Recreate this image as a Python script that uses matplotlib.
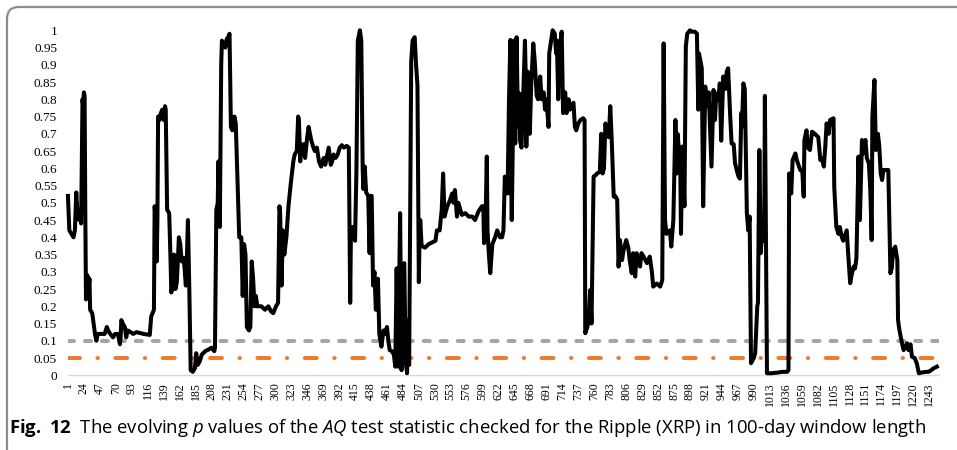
import matplotlib
matplotlib.use("Agg")
import matplotlib.pyplot as plt
from matplotlib.patches import FancyBboxPatch
from matplotlib.transforms import IdentityTransform

# window index (day) and p value
day = [
    1, 3, 6, 9, 11, 13, 15, 17, 19, 20, 22, 23, 24, 25, 26, 27, 29, 30, 32, 33,
    36, 38, 40, 42, 44, 50, 54, 57, 59, 62, 66, 69, 73, 76, 77, 78, 80, 83, 85, 87,
    90, 95, 100, 110, 119, 121, 123, 125, 126, 128, 129, 130, 131, 133, 135, 137, 139, 141, 142, 144,
    147, 149, 150, 152, 154, 156, 158, 161, 163, 165, 168, 171, 172, 174, 176, 178, 181, 184, 186, 188,
    191, 194, 199, 204, 208, 212, 213, 215, 217, 218, 220, 222, 223, 226, 228, 230, 232, 234, 236, 238,
    241, 243, 245, 248, 251, 253, 255, 257, 259, 262, 264, 266, 268, 270, 272, 274, 280, 285, 290, 294,
    297, 301, 304, 306, 307, 309, 311, 313, 316, 319, 322, 324, 326, 328, 331, 333, 334, 336, 337, 339,
    341, 343, 346, 348, 350, 352, 355, 357, 360, 363, 366, 368, 370, 372, 375, 377, 380, 382, 384, 387,
    390, 393, 396, 399, 403, 406, 408, 409, 411, 413, 415, 417, 419, 421, 422, 424, 426, 427, 429, 431,
    434, 436, 437, 439, 441, 443, 445, 448, 450, 453, 456, 458, 461, 463, 465, 468, 471, 473, 475, 477,
    480, 482, 484, 486, 488, 490, 491, 493, 496, 498, 501, 503, 505, 507, 508, 509, 511, 516, 521, 526,
    531, 533, 537, 540, 542, 544, 548, 552, 555, 557, 559, 562, 564, 569, 574, 579, 584, 588, 593, 598,
    600, 601, 603, 605, 606, 608, 610, 613, 617, 620, 624, 627, 629, 631, 633, 635, 637, 639, 640, 641,
    643, 644, 646, 648, 650, 652, 653, 655, 657, 660, 661, 662, 664, 667, 669, 672, 674, 677, 679, 682,
    684, 687, 689, 691, 694, 695, 697, 700, 703, 705, 706, 708, 710, 713, 715, 718, 720, 723, 725, 727,
    730, 732, 734, 737, 740, 744, 746, 747, 750, 752, 754, 756, 759, 762, 764, 768, 770, 772, 774, 776,
    779, 781, 783, 785, 788, 790, 793, 795, 797, 800, 802, 806, 809, 811, 814, 816, 819, 821, 823, 826,
    828, 831, 836, 840, 843, 845, 850, 855, 858, 860, 862, 864, 869, 871, 874, 877, 878, 879, 880, 884,
    885, 887, 890, 892, 894, 898, 900, 905, 908, 910, 911, 915, 917, 920, 922, 925, 927, 929, 932, 934,
    936, 939, 941, 943, 946, 949, 951, 953, 956, 958, 961, 963, 966, 968, 970, 972, 973, 975, 977, 980,
    982, 984, 986, 990, 992, 995, 996, 998, 1000, 1002, 1005, 1006, 1009, 1015, 1025, 1031, 1038, 1040, 1041, 1044,
    1046, 1050, 1052, 1057, 1060, 1062, 1063, 1066, 1068, 1071, 1074, 1078, 1083, 1086, 1088, 1091, 1093, 1095, 1098, 1100,
    1105, 1106, 1109, 1112, 1114, 1117, 1119, 1124, 1127, 1129, 1131, 1134, 1136, 1138, 1141, 1143, 1146, 1148, 1151, 1153,
    1156, 1158, 1160, 1161, 1164, 1166, 1169, 1171, 1173, 1175, 1177, 1182, 1184, 1187, 1189, 1191, 1194, 1197, 1198, 1200,
    1202, 1204, 1206, 1208, 1211, 1213, 1216, 1218, 1222, 1225, 1228, 1232, 1238, 1242, 1246, 1249, 1254,
]
p_value = [
    0.52, 0.42, 0.41, 0.40, 0.42, 0.53, 0.46, 0.45, 0.48, 0.44, 0.80, 0.78, 0.82, 0.81, 0.48, 0.22, 0.29, 0.23, 0.28, 0.19,
    0.18, 0.15, 0.12, 0.10, 0.12, 0.12, 0.12, 0.14, 0.13, 0.12, 0.11, 0.12, 0.12, 0.09, 0.11, 0.16, 0.15, 0.14, 0.11, 0.13,
    0.127, 0.12, 0.125, 0.12, 0.117, 0.17, 0.18, 0.19, 0.49, 0.44, 0.33, 0.45, 0.75, 0.74, 0.76, 0.77, 0.74, 0.78, 0.77, 0.48,
    0.47, 0.33, 0.24, 0.26, 0.35, 0.25, 0.27, 0.40, 0.38, 0.33, 0.34, 0.26, 0.30, 0.45, 0.25, 0.015, 0.01, 0.02, 0.064, 0.03,
    0.04, 0.06, 0.07, 0.075, 0.08, 0.07, 0.08, 0.48, 0.50, 0.62, 0.43, 0.90, 0.97, 0.96, 0.95, 0.975, 0.98, 0.99, 0.72, 0.71,
    0.75, 0.73, 0.60, 0.40, 0.40, 0.23, 0.38, 0.35, 0.14, 0.13, 0.14, 0.33, 0.28, 0.20, 0.23, 0.20, 0.20, 0.19, 0.20, 0.185,
    0.18, 0.20, 0.21, 0.49, 0.47, 0.26, 0.42, 0.35, 0.40, 0.49, 0.55, 0.585, 0.62, 0.64, 0.65, 0.75, 0.74, 0.62, 0.67, 0.64,
    0.67, 0.63, 0.69, 0.72, 0.70, 0.68, 0.66, 0.65, 0.66, 0.62, 0.605, 0.62, 0.63, 0.61, 0.64, 0.66, 0.61, 0.62, 0.64, 0.63,
    0.64, 0.66, 0.667, 0.66, 0.665, 0.66, 0.21, 0.40, 0.43, 0.41, 0.39, 0.595, 0.97, 0.99, 1.0, 0.97, 0.60, 0.54, 0.605, 0.53,
    0.52, 0.354, 0.52, 0.52, 0.26, 0.30, 0.19, 0.28, 0.12, 0.083, 0.13, 0.12, 0.14, 0.10, 0.073, 0.07, 0.06, 0.025, 0.31, 0.025,
    0.47, 0.015, 0.31, 0.325, 0.04, 0.006, 0.16, 0.03, 0.91, 0.97, 0.98, 0.90, 0.84, 0.27, 0.40, 0.45, 0.375, 0.37, 0.38, 0.385,
    0.39, 0.42, 0.42, 0.48, 0.585, 0.46, 0.49, 0.508, 0.527, 0.50, 0.537, 0.46, 0.50, 0.465, 0.47, 0.46, 0.46, 0.45, 0.475, 0.49,
    0.49, 0.383, 0.42, 0.634, 0.42, 0.35, 0.296, 0.38, 0.40, 0.42, 0.40, 0.40, 0.42, 0.576, 0.55, 0.527, 0.80, 0.972, 0.58, 0.45,
    0.75, 0.97, 0.672, 0.98, 0.72, 0.817, 0.68, 0.66, 0.78, 0.97, 0.88, 0.663, 0.88, 0.70, 0.84, 0.962, 0.914, 0.81, 0.80, 0.866,
    0.80, 0.82, 0.77, 0.80, 0.72, 0.933, 0.96, 1.0, 0.99, 0.933, 0.97, 0.80, 0.95, 0.996, 0.76, 0.82, 0.76, 0.80, 0.77, 0.78,
    0.79, 0.72, 0.71, 0.73, 0.74, 0.745, 0.74, 0.122, 0.14, 0.16, 0.247, 0.15, 0.576, 0.58, 0.585, 0.59, 0.70, 0.585, 0.60, 0.73,
    0.70, 0.69, 0.78, 0.69, 0.518, 0.52, 0.51, 0.315, 0.392, 0.334, 0.36, 0.392, 0.37, 0.334, 0.296, 0.354, 0.286, 0.354, 0.334, 0.315,
    0.354, 0.344, 0.325, 0.344, 0.30, 0.257, 0.266, 0.257, 0.276, 0.962, 0.45, 0.41, 0.42, 0.373, 0.45, 0.74, 0.643, 0.585, 0.70, 0.61,
    0.41, 0.663, 0.49, 0.953, 0.99, 1.0, 0.996, 0.996, 0.99, 0.77, 0.933, 0.89, 0.49, 0.837, 0.78, 0.82, 0.71, 0.605, 0.827, 0.74,
    0.817, 0.80, 0.846, 0.68, 0.866, 0.83, 0.88, 0.89, 0.75, 0.672, 0.67, 0.614, 0.59, 0.576, 0.57, 0.76, 0.72, 0.846, 0.83, 0.47,
    0.42, 0.46, 0.035, 0.05, 0.064, 0.20, 0.21, 0.653, 0.354, 0.42, 0.39, 0.81, 0.006, 0.006, 0.008, 0.01, 0.01, 0.015, 0.585, 0.527,
    0.624, 0.643, 0.624, 0.595, 0.59, 0.518, 0.682, 0.71, 0.66, 0.653, 0.706, 0.70, 0.69, 0.624, 0.63, 0.605, 0.66, 0.73, 0.70, 0.74,
    0.745, 0.547, 0.43, 0.41, 0.43, 0.40, 0.39, 0.42, 0.325, 0.267, 0.29, 0.315, 0.31, 0.34, 0.634, 0.45, 0.682, 0.643, 0.682, 0.63,
    0.614, 0.537, 0.392, 0.75, 0.856, 0.653, 0.70, 0.663, 0.585, 0.566, 0.595, 0.595, 0.595, 0.296, 0.31, 0.363, 0.373, 0.334, 0.16, 0.131,
    0.11, 0.09, 0.073, 0.08, 0.093, 0.073, 0.09, 0.054, 0.05, 0.035, 0.006, 0.008, 0.01, 0.01, 0.015, 0.02, 0.025,
]

n_windows = 1256
level_10 = 0.10
level_05 = 0.05
x_tick_labels = list(range(1, 1244, 23))
y_ticks = [round(0.05 * k, 2) for k in range(21)]

caption = (r"$\mathbf{Fig.\ 12}$  The evolving $\mathit{p}$ values of the $\mathit{AQ}$ "
           "test statistic checked for the Ripple (XRP) in 100-day window length")

plt.rcParams["mathtext.fontset"] = "custom"
plt.rcParams["mathtext.rm"] = "Open Sans"
plt.rcParams["mathtext.it"] = "Open Sans:italic"
plt.rcParams["mathtext.bf"] = "Open Sans:bold"
plt.rcParams["lines.scale_dashes"] = False

W, H = 957, 450
fig = plt.figure(figsize=(W / 100, H / 100), dpi=100)

# plot area in pixels: value 0 at y=375, value 1 at y=30
ax = fig.add_axes([67.6 / W, (H - 375.3) / H, 871 / W, 345 / H])

full = [1, n_windows]
ax.plot(full, [level_10, level_10], color="#A5A5A5", lw=2.9,
        ls=(0, (4.3, 7.9)), dash_capstyle="round", zorder=1)
ax.plot(full, [level_05, level_05], color="#ED7D31", lw=2.9,
        ls=(0, (8.6, 12.6, 0.3, 12.6)), dash_capstyle="round", zorder=1)
ax.plot(day, p_value, color="black", lw=2.9, solid_joinstyle="round",
        clip_on=False, zorder=3)

ax.set_xlim(0.5, n_windows + 0.5)
ax.set_ylim(0, 1)
ax.set_yticks(y_ticks)
ax.set_yticklabels([f"{v:g}" for v in y_ticks], fontfamily="Liberation Serif", fontsize=9.5)
ax.set_xticks(x_tick_labels)
ax.set_xticklabels([str(v) for v in x_tick_labels], rotation=90,
                   fontfamily="Liberation Serif", fontsize=8.5)
ax.tick_params(axis="y", length=0, pad=7.6)
ax.tick_params(axis="x", length=0, pad=5)
for side in ("left", "right", "top"):
    ax.spines[side].set_visible(False)
ax.spines["bottom"].set_color("#D9D9D9")
ax.spines["bottom"].set_linewidth(1)
ax.patch.set_visible(False)

# rounded frame around the figure
frame = FancyBboxPatch((7, -40), 1000, H - 7 + 40,
                       boxstyle="round,pad=0,rounding_size=12",
                       transform=IdentityTransform(), facecolor="none",
                       edgecolor="#8C8C8C", lw=1.6)
fig.add_artist(frame)

fig.text(9 / W, 1 - 433 / H, caption, fontfamily="Open Sans", fontsize=13.3,
         ha="left", va="baseline")

fig.savefig("out.png", dpi=100)
